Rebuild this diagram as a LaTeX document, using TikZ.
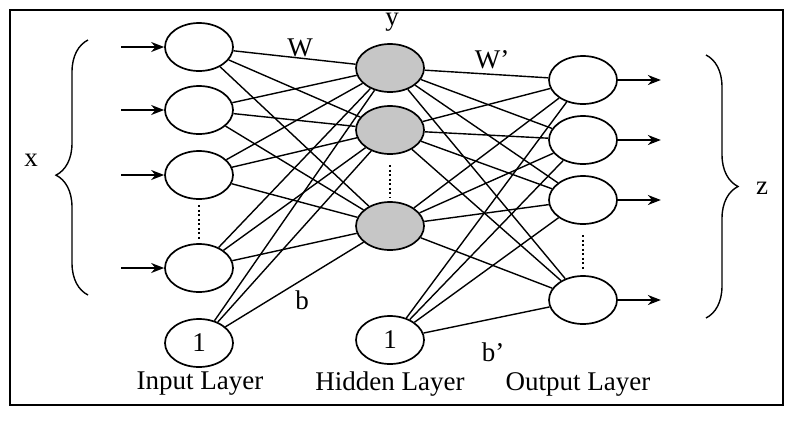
\documentclass[tikz,border=0pt]{standalone}
\usepackage{fontspec}
\setmainfont{Liberation Serif}
\usetikzlibrary{arrows.meta,decorations.pathreplacing,shapes.geometric}
\begin{document}
\begin{tikzpicture}[x=1pt,y=-1pt,
  neu/.style={ellipse,draw,line width=1.7pt,minimum width=68pt,minimum height=48pt,inner sep=0pt},
  hid/.style={neu,fill=gray!45},
  con/.style={line width=1.4pt},
  arr/.style={line width=1.7pt,-{Stealth[length=13pt,width=10pt]}},
  lab/.style={font=\fontsize{27}{29}\selectfont},
  dots/.style={line width=2.5pt,dash pattern=on 2pt off 2.5pt}]
\useasboundingbox (0,0) rectangle (796,421);
\draw[line width=1.7pt] (10,10) rectangle (783,405);
% input
\node[neu] (i1) at (199,47) {};
\node[neu] (i2) at (199,110) {};
\node[neu] (i3) at (199,175) {};
\node[neu] (i4) at (199,268) {};
\node[neu,lab] (ib) at (199,343) {1};
% hidden
\node[hid] (h1) at (390,68) {};
\node[hid] (h2) at (390,130) {};
\node[hid] (h3) at (390,226) {};
\node[neu,lab] (hb) at (390,340) {1};
% output
\node[neu] (o1) at (583,80) {};
\node[neu] (o2) at (583,140) {};
\node[neu] (o3) at (583,200) {};
\node[neu] (o4) at (583,300) {};
\foreach \a in {i1,i2,i3,i4,ib}{\foreach \b in {h1,h2,h3}{\draw[con] (\a) -- (\b);}}
\foreach \a in {h1,h2,h3,hb}{\foreach \b in {o1,o2,o3,o4}{\draw[con] (\a) -- (\b);}}
\foreach \n in {i1,i2,i3,i4}{\coordinate (s\n) at ([xshift=-43pt]\n.west); \draw[arr] (s\n) -- (\n.west);}
\foreach \n in {o1,o2,o3,o4}{\coordinate (e\n) at ([xshift=43pt]\n.east); \draw[arr] (\n.east) -- (e\n);}
\draw[dots] (199,205) -- (199,240);
\draw[dots] (390,165) -- (390,197);
\draw[dots] (583,235) -- (583,270);
\draw[line width=1.4pt,decorate,decoration={brace,amplitude=32pt,aspect=0.47}] (88,295) -- (88,40);
\draw[line width=1.4pt,decorate,decoration={brace,amplitude=32pt,aspect=0.5}] (706,55) -- (706,318);
\node[lab] (x) at (31,160) {x};
\node[lab] (z) at (762,188) {z};
\node[lab] (W) at (300,48) {W};
\node[lab] (y) at (392,22) {y};
\node[lab] (Wp) at (492,60) {W’};
\node[lab] (b) at (302,300) {b};
\node[lab] (bp) at (493,352) {b’};
\node[lab] (L1) at (200,384) {Input Layer};
\node[lab] (L2) at (390,384) {Hidden Layer};
\node[lab] (L3) at (578,384) {Output Layer};
\end{tikzpicture}
\end{document}
